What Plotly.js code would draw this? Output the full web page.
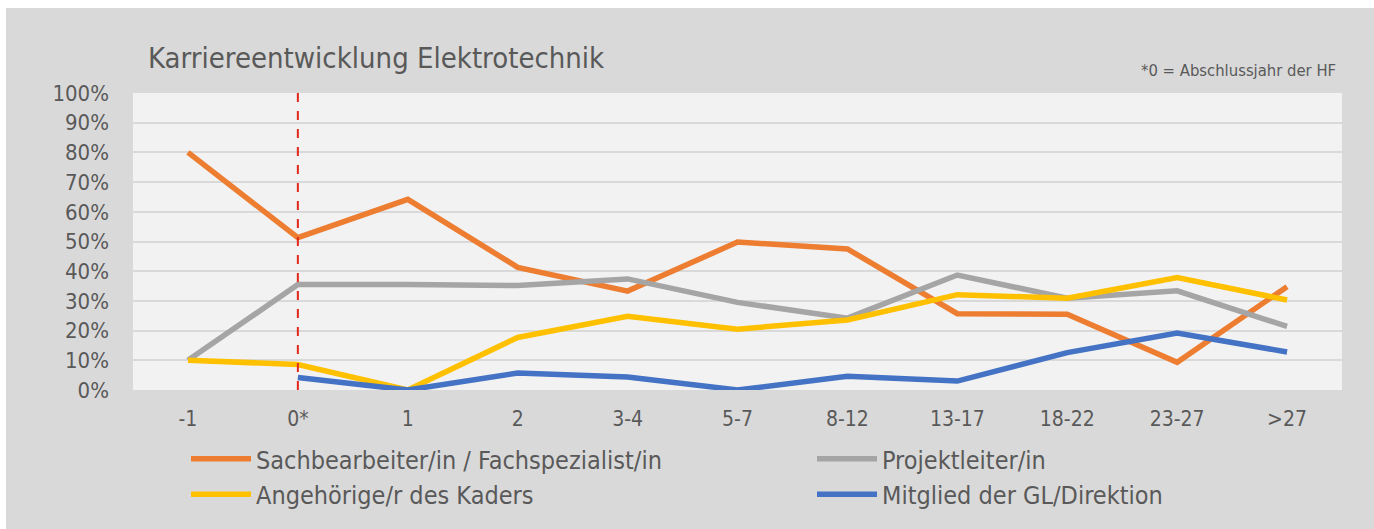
<!DOCTYPE html>
<html>
<head>
<meta charset="utf-8">
<script src="https://cdn.plot.ly/plotly-3.0.1.min.js"></script>
<style>
html,body{margin:0;padding:0;background:#ffffff;}
#chart{position:absolute;left:6px;top:8px;width:1368px;height:521px;}
</style>
</head>
<body>
<div id="chart"></div>
<script>
const categories = ["-1","0*","1","2","3-4","5-7","8-12","13-17","18-22","23-27",">27"];
const sachbearbeiter = [0.80,0.513,0.642,0.413,0.333,0.498,0.475,0.257,0.255,0.093,0.348];
const projektleiter  = [0.10,0.355,0.355,0.352,0.374,0.295,0.242,0.387,0.309,0.334,0.214];
const kader          = [0.10,0.086,0.0,0.177,0.248,0.205,0.236,0.321,0.309,0.379,0.303];
const mitglied       = [null,0.042,0.0,0.057,0.044,0.0,0.046,0.03,0.126,0.192,0.128];
const seriesNames = ["Sachbearbeiter/in / Fachspezialist/in","Projektleiter/in","Angehörige/r des Kaders","Mitglied der GL/Direktion"];
const yTicks = [0,0.1,0.2,0.3,0.4,0.5,0.6,0.7,0.8,0.9,1.0];
const yTickLabels = ["0%","10%","20%","30%","40%","50%","60%","70%","80%","90%","100%"];
const markerCategory = "0*";

const FONT = '"DejaVu Sans Condensed","DejaVu Sans",sans-serif';
const TXT = '#595959';

function tr(name, y, color, leg){
  return {type:'scatter', mode:'lines', x:categories, y:y, name:name, legend:leg,
    line:{color:color, width:5.5, shape:'linear'}, cliponaxis:false, connectgaps:false};
}
const data = [
  tr(seriesNames[0], sachbearbeiter, '#ED7D31', 'legend'),
  tr(seriesNames[1], projektleiter, '#A5A5A5', 'legend2'),
  tr(seriesNames[2], kader, '#FFC000', 'legend'),
  tr(seriesNames[3], mitglied, '#4472C4', 'legend2')
];

function leg(xpx){
  return {orientation:'v', x:xpx/1368, xref:'container', xanchor:'left', y:1-428/521, yref:'container', yanchor:'top',
          itemwidth:60, tracegroupgap:0, font:{size:25, color:TXT}, bgcolor:'rgba(0,0,0,0)', traceorder:'normal'};
}

const layout = {
  width:1368, height:521,
  paper_bgcolor:'#D9D9D9', plot_bgcolor:'#F2F2F2',
  margin:{l:127, r:32, t:85, b:139, autoexpand:false},
  font:{family:FONT, color:TXT},
  title:{text:'Karriereentwicklung Elektrotechnik', x:142/1368, xref:'container', xanchor:'left',
         y:1-50/521, yref:'container', yanchor:'middle', font:{size:29, color:TXT, family:FONT}},
  xaxis:{type:'category', range:[-0.5,10.5], showgrid:false, zeroline:false, showline:false, ticks:'',
         tickfont:{size:21, color:TXT}, ticklabelstandoff:14, tickangle:0, fixedrange:true},
  yaxis:{range:[0,1], tickvals:yTicks, ticktext:yTickLabels, showgrid:true, gridcolor:'#D9D9D9', gridwidth:2,
         zeroline:false, showline:false, ticks:'', tickfont:{size:22, color:TXT}, ticklabelstandoff:23},
  showlegend:true,
  legend:leg(180),
  legend2:leg(806),
  shapes:[{type:'line', xref:'x', yref:'paper', x0:markerCategory, x1:markerCategory, y0:0, y1:1,
           line:{color:'#E3271B', width:2, dash:'dash'}}],
  annotations:[{text:'*0 = Abschlussjahr der HF', xref:'paper', yref:'paper', x:(1332-127)/1209, y:(382-62)/297,
                xanchor:'right', yanchor:'middle', showarrow:false, font:{size:16.5, color:TXT, family:FONT}}]
};
Plotly.newPlot('chart', data, layout, {displayModeBar:false, staticPlot:true});
</script>
</body>
</html>
